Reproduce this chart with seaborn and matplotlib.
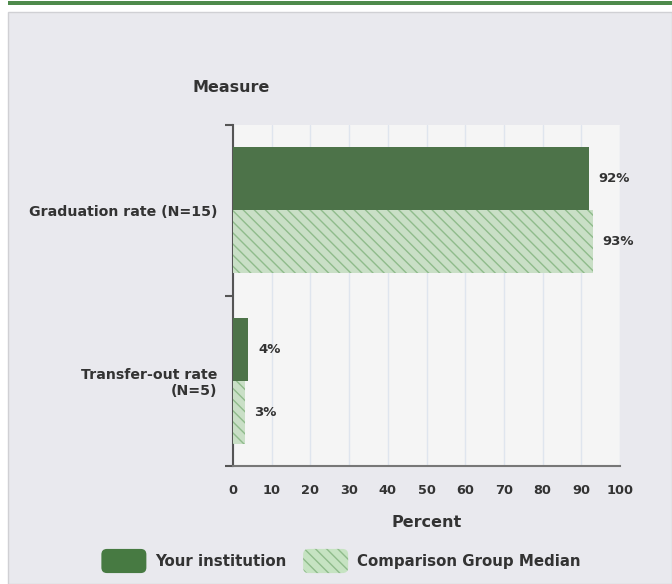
import matplotlib
matplotlib.use("Agg")
import matplotlib.pyplot as plt
import seaborn as sns
import pandas as pd
from matplotlib.patches import Rectangle, Patch, FancyBboxPatch
from matplotlib.legend_handler import HandlerPatch

measures = ["Graduation rate (N=15)", "Transfer-out rate\n(N=5)"]
groups = ["Your institution", "Comparison Group Median"]
your_values = [92, 4]
comparison_values = [93, 3]
x_ticks = [0, 10, 20, 30, 40, 50, 60, 70, 80, 90, 100]

df = pd.DataFrame({
    "Measure": measures * 2,
    "Group": [groups[0]] * len(measures) + [groups[1]] * len(measures),
    "Percent": your_values + comparison_values,
})

sns.set_style("white")
plt.rcParams["font.family"] = ["DejaVu Sans"]

DARK = "#477a42"
LIGHT = "#c6e3c2"
HATCH = "#8fbb8b"
TEXT = "#333333"

plt.rcParams["hatch.color"] = HATCH
plt.rcParams["hatch.linewidth"] = 1.0

W, H = 672, 584
fig = plt.figure(figsize=(W / 100, H / 100), dpi=100)
fig.patch.set_facecolor("white")

# outer panel and top green rule
fig.add_artist(Rectangle((8 / W, 0), (W - 8) / W, 1 - 12 / H, transform=fig.transFigure,
                         facecolor="#e9e9ee", edgecolor="#d0d0d4", lw=1, zorder=0))
fig.add_artist(Rectangle((8 / W, 1 - 5 / H), (W - 8) / W, 4 / H, transform=fig.transFigure,
                         facecolor="#4e8a4c", edgecolor="none", zorder=0))

ax = fig.add_axes([233 / W, 1 - 466 / H, (620 - 233) / W, (466 - 125) / H])
ax.set_facecolor("#f5f5f5")

sns.barplot(data=df, y="Measure", x="Percent", hue="Group", orient="h",
            palette=[DARK, LIGHT], width=0.74, ax=ax, legend=False, zorder=3)

n = len(measures)
for i, bar in enumerate(ax.patches):
    if i >= n:
        bar.set_hatch("\\\\\\")
        bar.set_edgecolor(HATCH)
        bar.set_linewidth(0)
    else:
        bar.set_edgecolor("none")

for cont in ax.containers:
    ax.bar_label(cont, fmt="%d%%", padding=7, fontsize=9.5, fontweight="bold", color=TEXT)

ax.set_xlim(0, 100)
ax.set_ylim(1.5, -0.5)
ax.set_xticks(x_ticks)
ax.set_xticklabels([str(t) for t in x_ticks], fontsize=9.3, fontweight="bold", color=TEXT)
ax.tick_params(axis="x", length=0, pad=13)
ax.xaxis.grid(True, color="#dfe5ee", lw=1, zorder=0)
ax.set_axisbelow(True)

ax.set_yticks(range(n))
ax.set_yticklabels(measures, fontsize=10.2, fontweight="bold", color=TEXT)
ax.tick_params(axis="y", which="major", length=0, pad=11)
ax.set_yticks([-0.5, 0.5, 1.5], minor=True)
ax.tick_params(axis="y", which="minor", left=True, length=6, width=1.5, color="#555555")

for s in ["top", "right"]:
    ax.spines[s].set_visible(False)
ax.spines["left"].set_color("#555555")
ax.spines["left"].set_linewidth(1.5)
ax.spines["bottom"].set_color("#777777")
ax.spines["bottom"].set_linewidth(1.5)

ax.set_xlabel("Percent", fontsize=11.5, fontweight="bold", color=TEXT, labelpad=13)
ax.set_ylabel("")
fig.text(193 / W, 1 - 87 / H, "Measure", fontsize=11.5, fontweight="bold", color=TEXT,
         ha="left", va="center")


class RoundHandler(HandlerPatch):
    def create_artists(self, legend, orig_handle, xdescent, ydescent, width, height,
                       fontsize, trans):
        p = FancyBboxPatch((-xdescent + 2, -ydescent + 2), width - 4, height - 4,
                           boxstyle="round,pad=2,rounding_size=4",
                           facecolor=orig_handle.get_facecolor(),
                           edgecolor=orig_handle.get_edgecolor(),
                           hatch=orig_handle.get_hatch(), lw=0, transform=trans)
        return [p]


handles = [Patch(facecolor=DARK, edgecolor="none"),
           Patch(facecolor=LIGHT, edgecolor=HATCH, hatch="\\\\\\", lw=0)]
leg = fig.legend(handles, groups, loc="center", bbox_to_anchor=(341 / W, 1 - 561 / H),
                 ncol=2, frameon=False, handlelength=3.0, handleheight=2.1,
                 columnspacing=1.1, handletextpad=0.6,
                 prop={"size": 10.8, "weight": "bold"},
                 handler_map={Patch: RoundHandler()})
for t in leg.get_texts():
    t.set_color(TEXT)

fig.savefig("out.png", dpi=100)
